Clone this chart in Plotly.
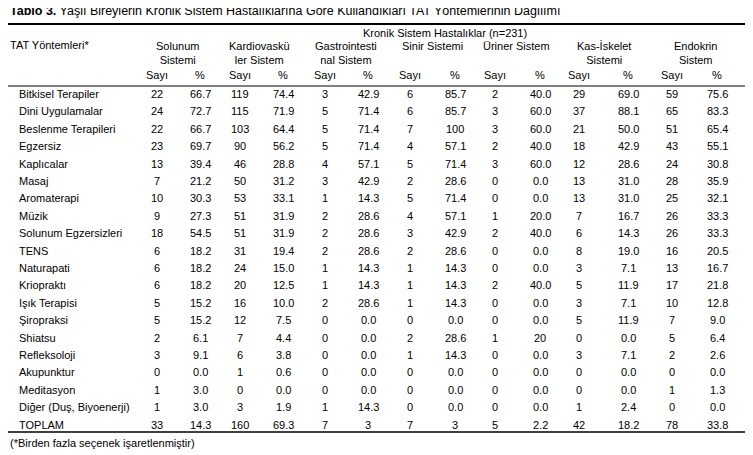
import plotly.graph_objects as go

W, H = 753, 455
OFF = 8  # page body margin in the browser

methods = ["Bitkisel Terapiler", "Dini Uygulamalar", "Beslenme Terapileri", "Egzersiz",
           "Kaplıcalar", "Masaj", "Aromaterapi", "Müzik", "Solunum Egzersizleri", "TENS",
           "Naturapati", "Kriopraktı", "Işık Terapisi", "Şiropraksi", "Shiatsu", "Refleksoloji",
           "Akupunktur", "Meditasyon", "Diğer (Duş, Biyoenerji)", "TOPLAM"]

systems = ["Solunum<br>Sistemi", "Kardiovaskü<br>ler Sistem", "Gastrointesti<br>nal Sistem",
           "Sinir Sistemi", "Üriner Sistem", "Kas-İskelet<br>Sistemi", "Endokrin<br>Sistem"]

solunum_n = [22, 24, 22, 23, 13, 7, 10, 9, 18, 6, 6, 6, 5, 5, 2, 3, 0, 1, 1, 33]
solunum_p = ["66.7", "72.7", "66.7", "69.7", "39.4", "21.2", "30.3", "27.3", "54.5", "18.2",
             "18.2", "18.2", "15.2", "15.2", "6.1", "9.1", "0.0", "3.0", "3.0", "14.3"]
kardio_n = [119, 115, 103, 90, 46, 50, 53, 51, 51, 31, 24, 20, 16, 12, 7, 6, 1, 0, 3, 160]
kardio_p = ["74.4", "71.9", "64.4", "56.2", "28.8", "31.2", "33.1", "31.9", "31.9", "19.4",
            "15.0", "12.5", "10.0", "7.5", "4.4", "3.8", "0.6", "0.0", "1.9", "69.3"]
gastro_n = [3, 5, 5, 5, 4, 3, 1, 2, 2, 2, 1, 1, 2, 0, 0, 0, 0, 0, 1, 7]
gastro_p = ["42.9", "71.4", "71.4", "71.4", "57.1", "42.9", "14.3", "28.6", "28.6", "28.6",
            "14.3", "14.3", "28.6", "0.0", "0.0", "0.0", "0.0", "0.0", "14.3", "3"]
sinir_n = [6, 6, 7, 4, 5, 2, 5, 4, 3, 2, 1, 1, 1, 0, 2, 1, 0, 0, 0, 7]
sinir_p = ["85.7", "85.7", "100", "57.1", "71.4", "28.6", "71.4", "57.1", "42.9", "28.6",
           "14.3", "14.3", "14.3", "0.0", "28.6", "14.3", "0.0", "0.0", "0.0", "3"]
uriner_n = [2, 3, 3, 2, 3, 0, 0, 1, 2, 0, 0, 2, 0, 0, 1, 0, 0, 0, 0, 5]
uriner_p = ["40.0", "60.0", "60.0", "40.0", "60.0", "0.0", "0.0", "20.0", "40.0", "0.0",
            "0.0", "40.0", "0.0", "0.0", "20", "0.0", "0.0", "0.0", "0.0", "2.2"]
kas_n = [29, 37, 21, 18, 12, 13, 13, 7, 6, 8, 3, 5, 3, 5, 0, 3, 0, 0, 1, 42]
kas_p = ["69.0", "88.1", "50.0", "42.9", "28.6", "31.0", "31.0", "16.7", "14.3", "19.0",
         "7.1", "11.9", "7.1", "11.9", "0.0", "7.1", "0.0", "0.0", "2.4", "18.2"]
endo_n = [59, 65, 51, 43, 24, 28, 25, 26, 26, 16, 13, 17, 10, 7, 5, 2, 0, 1, 0, 78]
endo_p = ["75.6", "83.3", "65.4", "55.1", "30.8", "35.9", "32.1", "33.3", "33.3", "20.5",
          "16.7", "21.8", "12.8", "9.0", "6.4", "2.6", "0.0", "1.3", "0.0", "33.8"]

columns = [(solunum_n, solunum_p), (kardio_n, kardio_p), (gastro_n, gastro_p),
           (sinir_n, sinir_p), (uriner_n, uriner_p), (kas_n, kas_p), (endo_n, endo_p)]

# layout (pixels in the reference)
group_x = [177, 260, 346, 432, 517, 604, 695]
sayi_x = [157, 240, 325, 410, 495, 579, 672]
pct_x = [200, 283, 368, 455, 540, 628, 717]
row_y0, row_step = 94, 17.4

FONT = "Liberation Sans, Arial, sans-serif"
annots = []


def txt(x, y, s, size=11, anchor="center"):
    annots.append(dict(x=(x - OFF) / W, y=1 - (y - OFF) / H, xref="paper", yref="paper",
                       text=s, showarrow=False, xanchor=anchor, yanchor="middle",
                       font=dict(family=FONT, size=size, color="black")))


txt(8, 11, "<b>Tablo 3.</b> Yaşlı Bireylerin Kronik Sistem Hastalıklarına Göre Kullandıkları TAT Yöntemlerinin Dağılımı",
    size=12.5, anchor="left")
txt(445, 33, "Kronik Sistem Hastalıklar (n=231)")
txt(8, 45, "TAT Yöntemleri*", anchor="left")
for gx, name, sx, px_ in zip(group_x, systems, sayi_x, pct_x):
    txt(gx, 46 if "<br>" not in name else 53, name)
    txt(sx, 75, "Sayı")
    txt(px_, 75, "%")

for i, m in enumerate(methods):
    y = row_y0 + i * row_step
    txt(17, y, m, anchor="left")
    for (ns, ps), sx, px_ in zip(columns, sayi_x, pct_x):
        txt(sx, y, str(ns[i]))
        txt(px_, y, ps[i])

txt(8, 443, "(*Birden fazla seçenek işaretlenmiştir)", anchor="left")

shapes = []
for yy, w in [(24, 2), (86, 1), (432, 1.5)]:
    shapes.append(dict(type="line", xref="paper", yref="paper",
                       x0=(8 - OFF) / W, x1=(748 - OFF) / W,
                       y0=1 - (yy - OFF) / H, y1=1 - (yy - OFF) / H,
                       line=dict(color="black", width=w)))

fig = go.Figure()
fig.update_layout(width=W, height=H, margin=dict(l=0, r=0, t=0, b=0),
                  paper_bgcolor="white", plot_bgcolor="white",
                  xaxis=dict(visible=False), yaxis=dict(visible=False),
                  annotations=annots, shapes=shapes)
fig.write_html("out.html")
